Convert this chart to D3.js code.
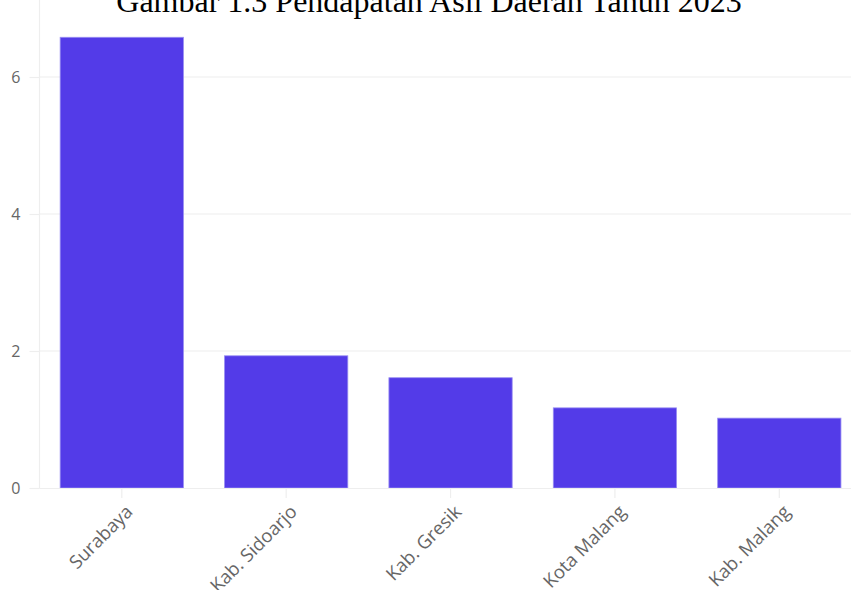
<!DOCTYPE html>
<html><head><meta charset="utf-8">
<script src="https://cdn.jsdelivr.net/npm/d3@7"></script>
<style>body{margin:0;background:#fff}svg{display:block}</style>
</head><body>
<svg id="c" width="851" height="590"></svg>
<script>
const categories = ["Surabaya","Kab. Sidoarjo","Kab. Gresik","Kota Malang","Kab. Malang"];
const values = [6.58, 1.93, 1.61, 1.17, 1.02];
const yTicks = [0, 2, 4, 6];
const title = "Gambar 1.3 Pendapatan Asli Daerah Tahun 2023";

const svg = d3.select("#c");
const x = d3.scaleBand().domain(categories).range([39.6, 861.5]).paddingInner(0.25).paddingOuter(0.125);
const y = d3.scaleLinear().domain([0, 6]).range([488, 77]);

// gridlines
svg.append("g").selectAll("line").data(yTicks.filter(d=>d>0)).join("line")
  .attr("x1", 40).attr("x2", 851).attr("y1", d=>y(d)).attr("y2", d=>y(d))
  .attr("stroke", "#eeeeee").attr("stroke-width", 1.2);

// y axis
const yAxis = svg.append("g").attr("transform","translate(39.5,0)")
  .call(d3.axisLeft(y).tickValues(yTicks).tickFormat(d3.format("d")).tickSize(10).tickPadding(9));
yAxis.select(".domain").attr("stroke","#eeeeee").attr("stroke-width",1.2).attr("d","M0,0V488.5");
yAxis.selectAll(".tick line").attr("stroke","#eeeeee").attr("stroke-width",1.2);
yAxis.selectAll("text").attr("fill","#666").style("font-family","'Open Sans'").style("font-size","16px");

// bars
svg.append("g").selectAll("rect").data(categories).join("rect")
  .attr("x", d=>x(d)).attr("width", x.bandwidth())
  .attr("y", (d,i)=>y(values[i])).attr("height", (d,i)=>y(0)-y(values[i]))
  .attr("fill","#533be8").attr("stroke","#9a8ff2").attr("stroke-width",0.8);

// x axis
const xAxis = svg.append("g").attr("transform","translate(0,488)")
  .call(d3.axisBottom(x).tickSize(10));
xAxis.select(".domain").attr("stroke","#eeeeee").attr("stroke-width",1.2).attr("d","M39.5,0.5H851");
xAxis.selectAll(".tick line").attr("stroke","#eeeeee").attr("stroke-width",1.2);
xAxis.selectAll("text").attr("fill","#666").style("font-family","'Open Sans'").style("font-size","18.5px")
  .attr("text-anchor","end").attr("x",0).attr("y",0).attr("dy","0")
  .attr("transform","translate(12,25) rotate(-45)");

// title
svg.append("text").attr("x", 429).attr("y", 12).attr("text-anchor","middle")
  .style("font-family","'Liberation Serif','Times New Roman',serif").style("font-size","32px")
  .attr("fill","#000").text(title);
</script>
</body></html>
